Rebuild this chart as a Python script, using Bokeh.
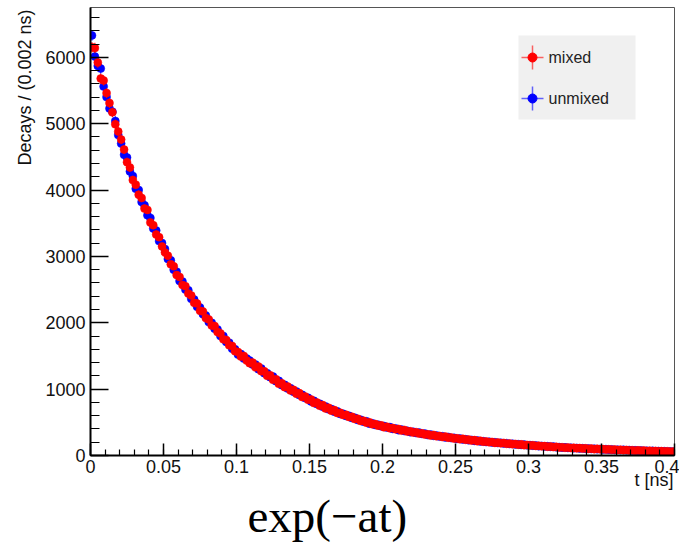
import math
from bokeh.plotting import figure
from bokeh.models import Range1d, SingleIntervalTicker, CustomJSTickFormatter, Label, ColumnDataSource, Title
from bokeh.embed import file_html
from bokeh.resources import INLINE

# ---------------- data ----------------
t_start, t_stop, n_bins = 0.0, 0.4, 200
bin_width = (t_stop - t_start) / n_bins
t_centers = [t_start + bin_width * (i + 0.5) for i in range(n_bins)]

mixed = [
    6150, 6140, 5920, 5680, 5650,
    5460, 5310, 5170, 4990, 4880,
    4760, 4610, 4420, 4340, 4150,
    4080, 3930, 3880, 3720, 3700,
    3510, 3470, 3330, 3290, 3150,
    3060, 3010, 2880, 2850, 2720,
    2690, 2570, 2550, 2440, 2410,
    2300, 2290, 2180, 2170, 2070,
    2050, 1960, 1950, 1860, 1840,
    1750, 1740, 1660, 1650, 1570,
    1560, 1490, 1500, 1430, 1390,
    1400, 1330, 1340, 1270, 1270,
    1200, 1210, 1140, 1150, 1080,
    1090, 1030, 1040, 980, 990,
    930, 940, 880, 890, 840,
    845, 790, 800, 750, 760,
    710, 720, 675, 685, 640,
    645, 610, 615, 580, 585,
    550, 555, 520, 525, 495,
    500, 470, 475, 450, 455,
    425, 435, 410, 415, 395,
    400, 375, 385, 360, 365,
    345, 352, 330, 335, 315,
    320, 300, 310, 290, 295,
    278, 285, 268, 272, 255,
    260, 245, 252, 236, 240,
    225, 232, 215, 222, 208,
    212, 200, 205, 190, 196,
    184, 190, 176, 181, 170,
    174, 162, 168, 156, 160,
    150, 155, 144, 148, 138,
    142, 132, 137, 127, 130,
    120, 125, 116, 121, 112,
    116, 108, 112, 104, 108,
    99, 104, 96, 101, 93,
    97, 89, 94, 86, 90,
    82, 87, 79, 84, 76,
    80, 73, 78, 70, 75,
    67, 72, 65, 69, 62,
    66, 59, 64, 57, 61,
]

unmixed = [
    6330, 6010, 5870, 5830, 5560,
    5400, 5230, 5180, 5040, 4830,
    4700, 4530, 4490, 4280, 4210,
    4020, 4000, 3820, 3770, 3620,
    3580, 3420, 3390, 3230, 3200,
    3110, 2960, 2940, 2800, 2770,
    2630, 2620, 2500, 2490, 2360,
    2350, 2240, 2230, 2130, 2110,
    2010, 2000, 1910, 1900, 1800,
    1800, 1710, 1700, 1610, 1600,
    1520, 1530, 1460, 1460, 1430,
    1370, 1370, 1300, 1310, 1240,
    1240, 1180, 1190, 1120, 1125,
    1060, 1065, 1010, 1015, 960,
    965, 910, 915, 865, 870,
    815, 825, 775, 780, 735,
    740, 695, 700, 660, 665,
    625, 630, 595, 600, 565,
    570, 535, 540, 510, 515,
    480, 485, 460, 465, 440,
    445, 420, 428, 400, 408,
    382, 390, 368, 372, 352,
    358, 338, 345, 325, 330,
    308, 315, 296, 302, 285,
    290, 272, 280, 262, 266,
    250, 256, 240, 245, 230,
    235, 220, 226, 212, 216,
    203, 208, 195, 200, 188,
    192, 180, 186, 173, 178,
    166, 171, 160, 164, 153,
    157, 147, 152, 141, 145,
    135, 140, 130, 134, 124,
    127, 118, 123, 114, 118,
    110, 114, 106, 110, 102,
    106, 98, 103, 95, 99,
    91, 96, 88, 92, 84,
    88, 81, 86, 78, 82,
    75, 79, 72, 76, 69,
    72, 66, 70, 64, 67,
    61, 65, 58, 62, 56,
]

series_colors = {"mixed": "#ff0000", "unmixed": "#0000ff"}
x_ticks_interval = 0.05
y_ticks_interval = 1000
x_label = "t [ns]"
y_label = "Decays / (0.002 ns)"
caption = "exp(\u2212at)"

# ---------------- layout ----------------
W, H = 679, 547
FL, FR, FT, FB = 90, 5, 7, 92
FW, FH = W - FL - FR, H - FT - FB
X0, X1 = 0.0, 0.4
Y0, Y1 = 0.0, 6750.0


def px2x(px):
    return X0 + (px - FL) / FW * (X1 - X0)


def py2y(py):
    return Y0 + (H - FB - py) / FH * (Y1 - Y0)


p = figure(width=W, height=H, x_range=Range1d(X0, X1), y_range=Range1d(Y0, Y1),
           output_backend="svg", toolbar_location=None, title=None,
           min_border_left=FL, min_border_right=FR, min_border_top=FT, min_border_bottom=FB)
p.background_fill_color = "white"
p.border_fill_color = "white"
p.grid.visible = False
p.outline_line_color = "#555555"
p.outline_line_width = 1

p.xaxis.ticker = SingleIntervalTicker(interval=x_ticks_interval, num_minor_ticks=5)
p.yaxis.ticker = SingleIntervalTicker(interval=y_ticks_interval, num_minor_ticks=5)
p.xaxis.formatter = CustomJSTickFormatter(code="return String(Math.round(tick*1000)/1000);")
p.yaxis.formatter = CustomJSTickFormatter(code="return String(Math.round(tick));")
p.xaxis.major_tick_in = 12
p.xaxis.minor_tick_in = 6
p.yaxis.major_tick_in = 18
p.yaxis.minor_tick_in = 9
p.axis.major_tick_out = 0
p.axis.minor_tick_out = 0
p.axis.axis_line_width = 2
p.axis.axis_line_color = "black"
p.axis.major_tick_line_color = "black"
p.axis.minor_tick_line_color = "black"
p.axis.major_tick_line_width = 1.5
p.axis.minor_tick_line_width = 1.2
p.axis.major_label_text_font = "Liberation Sans"
p.axis.major_label_text_font_size = "18px"
p.axis.major_label_text_color = "#111111"
p.xaxis.major_label_standoff = 4
p.yaxis.major_label_standoff = 5

half = bin_width / 2
for name, vals in [("unmixed", unmixed), ("mixed", mixed)]:
    col = series_colors[name]
    err = [math.sqrt(v) for v in vals]
    src = ColumnDataSource(dict(
        t=t_centers, v=vals,
        lo=[v - e for v, e in zip(vals, err)], hi=[v + e for v, e in zip(vals, err)],
        tl=[t - half for t in t_centers], tr=[t + half for t in t_centers]))
    p.segment(x0="t", y0="lo", x1="t", y1="hi", source=src, line_color=col, line_width=1)
    p.segment(x0="tl", y0="v", x1="tr", y1="v", source=src, line_color=col, line_width=1)
    p.scatter(x="t", y="v", source=src, size=8, fill_color=col, line_color=col, line_width=0.5)

# ---------------- legend (drawn by hand, ROOT style) ----------------
p.quad(left=px2x(518), right=px2x(635), top=py2y(35), bottom=py2y(119),
       fill_color="#f0f0f0", line_color=None)
for name, py in [("mixed", 57), ("unmixed", 98)]:
    col = series_colors[name]
    cx, cy = px2x(532), py2y(py)
    p.segment(x0=[px2x(521)], y0=[cy], x1=[px2x(543)], y1=[cy], line_color=col, line_width=1.5, line_alpha=0.6)
    p.segment(x0=[cx], y0=[py2y(py - 12)], x1=[cx], y1=[py2y(py + 12)], line_color=col, line_width=1.5, line_alpha=0.6)
    p.scatter(x=[cx], y=[cy], size=9, fill_color=col, line_color=col)
    p.add_layout(Label(x=px2x(548), y=cy, text=name, text_font="Liberation Sans",
                       text_font_size="16px", text_color="#222222",
                       text_align="left", text_baseline="middle"))

# ---------------- texts outside the frame (side panels) ----------------
p.add_layout(Title(text=y_label, align="right", text_font="Liberation Sans",
                   text_font_size="18px", text_font_style="normal", text_color="#111111",
                   standoff=16, offset=2), "left")
p.add_layout(Title(text=x_label, align="right", text_font="Liberation Sans",
                   text_font_size="18px", text_font_style="normal", text_color="#111111",
                   standoff=-15, offset=1), "below")
p.add_layout(Title(text=caption, align="left", text_font="Liberation Serif",
                   text_font_size="47px", text_font_style="normal", text_color="black",
                   standoff=11, offset=157), "below")

open("out.html", "w").write(file_html(p, INLINE))
